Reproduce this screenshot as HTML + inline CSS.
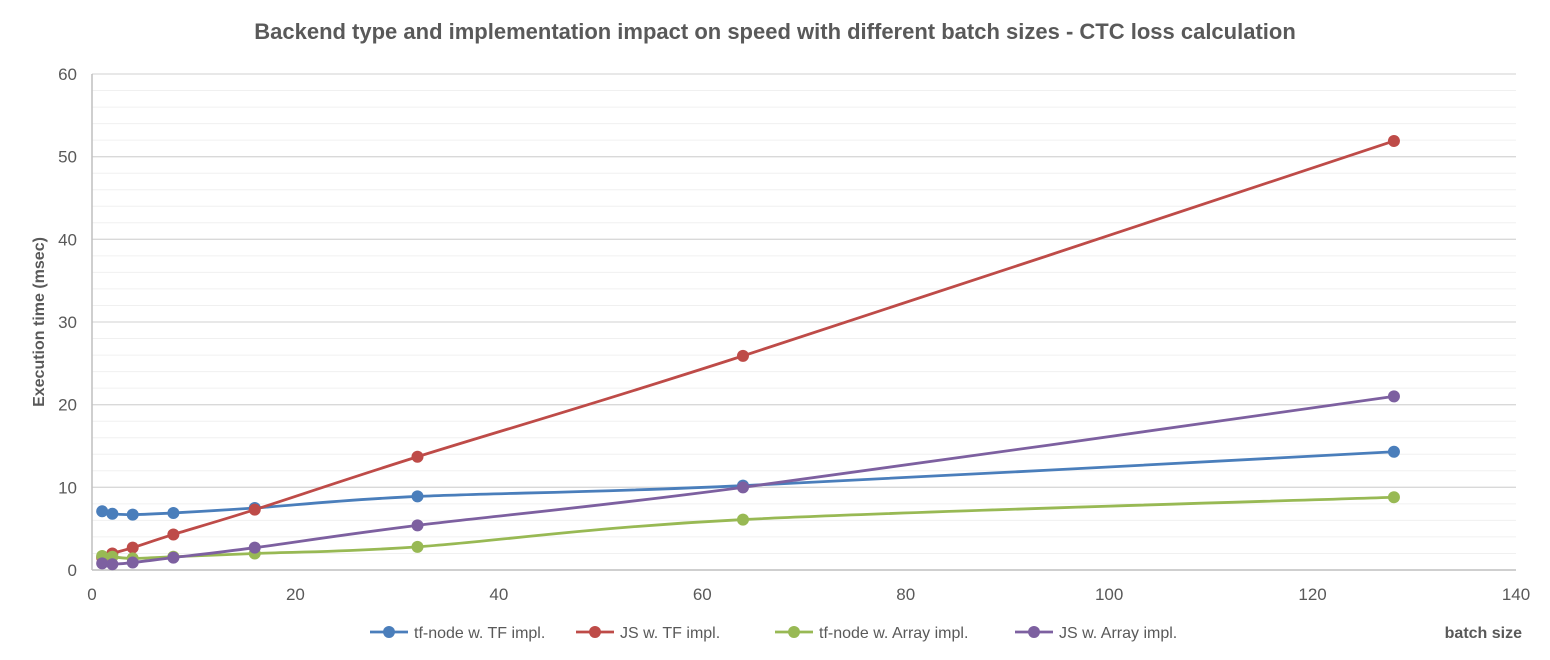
<!DOCTYPE html>
<html><head><meta charset="utf-8"><style>
body{margin:0;background:#fff;font-family:"Liberation Sans",sans-serif;}
svg{display:block}
</style></head><body>
<svg id="chart" width="1550" height="660">
<text x="775" y="39" text-anchor="middle" font-size="22" font-weight="bold" fill="#595959">Backend type and implementation impact on speed with different batch sizes - CTC loss calculation</text>
<g id="grid"></g><g id="axes"></g><g id="series"></g>
<text transform="translate(44,322) rotate(-90)" text-anchor="middle" font-size="16" font-weight="bold" fill="#595959">Execution time (msec)</text>
<text x="1522" y="638" text-anchor="end" font-size="16" font-weight="bold" fill="#595959">batch size</text>
<g id="legend"></g>
</svg>
<script>
const batchSizes=[1,2,4,8,16,32,64,128];
const tfNodeTF=[7.1,6.8,6.7,6.9,7.5,8.9,10.2,14.3];
const jsTF=[1.5,2.0,2.7,4.3,7.3,13.7,25.9,51.9];
const tfNodeArray=[1.7,1.6,1.4,1.6,2.0,2.8,6.1,8.8];
const jsArray=[0.8,0.7,0.9,1.5,2.7,5.4,10.0,21.0];
const seriesNames=["tf-node w. TF impl.","JS w. TF impl.","tf-node w. Array impl.","JS w. Array impl."];
const xTicks=[0,20,40,60,80,100,120,140];
const yTicks=[0,10,20,30,40,50,60];
const NS="http://www.w3.org/2000/svg";
const X0=92,X1=1516,Y0=570,Y1=74;
const xs=v=>X0+(v-0)/140*(X1-X0);
const ys=v=>Y0-(v/60)*(Y0-Y1);
function mk(t,a,p){const e=document.createElementNS(NS,t);for(const k in a)e.setAttribute(k,a[k]);p.appendChild(e);return e;}
const grid=document.getElementById('grid'),axes=document.getElementById('axes'),ser=document.getElementById('series'),leg=document.getElementById('legend');
for(let v=2;v<=60;v+=2){const l=mk('line',{x1:X0,x2:X1,y1:ys(v),y2:ys(v),stroke:v%10===0?'#d9d9d9':'#f0f0f0','stroke-width':v%10===0?1.3:1},grid);

}
const xa=mk('line',{x1:X0,x2:X1,y1:Y0,y2:Y0,stroke:'#bfbfbf','stroke-width':1.5},axes);


const ya=mk('line',{x1:X0,x2:X0,y1:Y0,y2:Y1,stroke:'#bfbfbf','stroke-width':1.5},axes);


xTicks.forEach(v=>{const t=mk('text',{x:xs(v),y:600,'text-anchor':'middle','font-size':17,fill:'#595959'},axes);t.textContent=v;

});
yTicks.forEach(v=>{const t=mk('text',{x:77,y:ys(v)+6,'text-anchor':'end','font-size':17,fill:'#595959'},axes);t.textContent=v;

});
const colors=['#4a7ebb','#be4b48','#98b954','#7d60a0'];
const data=[tfNodeTF,jsTF,tfNodeArray,jsArray];
function smooth(pts){let d=`M${pts[0][0]},${pts[0][1]}`;for(let i=0;i<pts.length-1;i++){const p0=pts[i-1]||pts[i],p1=pts[i],p2=pts[i+1],p3=pts[i+2]||p2;const k=0.16;
d+=` C${p1[0]+(p2[0]-p0[0])*k},${p1[1]+(p2[1]-p0[1])*k} ${p2[0]-(p3[0]-p1[0])*k},${p2[1]-(p3[1]-p1[1])*k} ${p2[0]},${p2[1]}`;}return d;}
data.forEach((arr,si)=>{const g=mk('g',{},ser);


const pts=batchSizes.map((b,i)=>[xs(b),ys(arr[i])]);
const p=mk('path',{d:smooth(pts),fill:'none',stroke:colors[si],'stroke-width':2.8},g);


pts.forEach(q=>{const c=mk('circle',{cx:q[0],cy:q[1],r:6,fill:colors[si]},g);

});});
const lx=[370,576,775,1015];
seriesNames.forEach((n,i)=>{const g=mk('g',{},leg);


mk('line',{x1:lx[i],x2:lx[i]+38,y1:632,y2:632,stroke:colors[i],'stroke-width':2.8},g);
mk('circle',{cx:lx[i]+19,cy:632,r:6,fill:colors[i]},g);
const t=mk('text',{x:lx[i]+44,y:638,'font-size':16,fill:'#595959'},g);t.textContent=n;});
</script>
</body></html>
